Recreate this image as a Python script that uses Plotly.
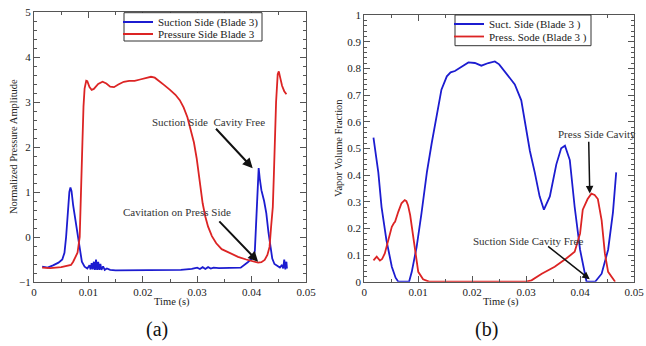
import plotly.graph_objects as go

# ---------------- data: (a) normalized pressure amplitude ----------------
a_suction_t = [0.0015, 0.0025, 0.0035, 0.0045, 0.0052, 0.0056, 0.0059, 0.0062, 0.0065, 0.0067,
               0.0069, 0.0072, 0.0075, 0.0078, 0.0081, 0.0084, 0.0088, 0.0093, 0.0098,
               0.0102, 0.0104, 0.0106, 0.0108, 0.0110, 0.0112, 0.0114, 0.0116, 0.0118, 0.0120,
               0.0122, 0.0124, 0.0127, 0.0130, 0.0134, 0.0140, 0.0150, 0.0200, 0.0250, 0.0270,
               0.0290, 0.0300, 0.0305, 0.0310, 0.0315, 0.0320, 0.0325, 0.0330, 0.0340, 0.0360,
               0.0380, 0.0393, 0.0403, 0.0406, 0.0408, 0.0410, 0.0412, 0.0413, 0.0415, 0.0418,
               0.0423, 0.0427, 0.0431, 0.0434, 0.0438, 0.0442, 0.0448, 0.0452, 0.0456, 0.0458,
               0.0460, 0.0462, 0.0464, 0.0465]
a_suction_v = [-0.66, -0.68, -0.63, -0.57, -0.50, -0.35, 0.00, 0.60, 1.00, 1.10,
               1.02, 0.70, 0.45, 0.23, 0.00, -0.30, -0.55, -0.66, -0.70,
               -0.63, -0.72, -0.58, -0.72, -0.55, -0.73, -0.50, -0.73, -0.55, -0.73,
               -0.60, -0.73, -0.65, -0.73, -0.70, -0.73, -0.74, -0.74, -0.74, -0.73,
               -0.71, -0.68, -0.71, -0.67, -0.71, -0.67, -0.70, -0.68, -0.69, -0.69,
               -0.68, -0.56, -0.45, -0.30, 0.20, 0.90, 1.45, 1.53, 1.30, 1.04,
               0.80, 0.53, 0.10, -0.20, -0.48, -0.60, -0.64, -0.68, -0.62, -0.70,
               -0.50, -0.72, -0.55, -0.70]

a_pressure_t = [0.0015, 0.0030, 0.0050, 0.0060, 0.0068, 0.0072, 0.0076, 0.0080, 0.0084, 0.0087,
                0.0089, 0.0091, 0.0093, 0.0096, 0.0098, 0.0102, 0.0106, 0.0110, 0.0118, 0.0126,
                0.0133, 0.0140, 0.0147, 0.0155, 0.0165, 0.0175, 0.0185, 0.0195, 0.0205, 0.0215,
                0.0222, 0.0230, 0.0240, 0.0250, 0.0260, 0.0268, 0.0275, 0.0282, 0.0288, 0.0294,
                0.0299, 0.0304, 0.0310, 0.0315, 0.0320, 0.0327, 0.0335, 0.0345, 0.0360, 0.0375,
                0.0390, 0.0402, 0.0412, 0.0418, 0.0424, 0.0429, 0.0433, 0.0436, 0.0439, 0.0441,
                0.0443, 0.0445, 0.0448, 0.0450, 0.0453, 0.0456, 0.0460, 0.0464]
a_pressure_v = [-0.68, -0.69, -0.67, -0.65, -0.62, -0.55, -0.45, -0.35, 0.00, 1.00,
                2.10, 2.90, 3.30, 3.47, 3.46, 3.33, 3.27, 3.29, 3.40, 3.45,
                3.41, 3.34, 3.33, 3.39, 3.45, 3.47, 3.47, 3.50, 3.53, 3.56,
                3.54, 3.47, 3.37, 3.27, 3.16, 3.04, 2.88, 2.66, 2.40, 2.10,
                1.75, 1.30, 0.75, 0.45, 0.23, 0.02, -0.14, -0.27, -0.36, -0.44,
                -0.50, -0.54, -0.57, -0.56, -0.51, -0.40, -0.22, 0.25, 0.67, 1.40,
                2.20, 3.00, 3.62, 3.68, 3.52, 3.36, 3.24, 3.17]

# ---------------- data: (b) vapor volume fraction ----------------
b_suction_t = [0.0017, 0.0020, 0.0026, 0.0032, 0.0041, 0.0051, 0.0058, 0.0063, 0.0083, 0.0088,
               0.0097, 0.0106, 0.0116, 0.0125, 0.0134, 0.0143, 0.0153, 0.0160, 0.0168, 0.0180,
               0.0193, 0.0205, 0.0217, 0.0230, 0.0242, 0.0250, 0.0260, 0.0279, 0.0291, 0.0300,
               0.0307, 0.0316, 0.0325, 0.0333, 0.0344, 0.0356, 0.0365, 0.0372, 0.0381, 0.0390,
               0.0400, 0.0409, 0.0412, 0.0428, 0.0440, 0.0452, 0.0461, 0.0467]
b_suction_v = [0.54, 0.49, 0.41, 0.28, 0.156, 0.056, 0.015, 0.0, 0.0, 0.037,
               0.13, 0.256, 0.41, 0.52, 0.62, 0.72, 0.77, 0.785, 0.79, 0.805,
               0.822, 0.82, 0.81, 0.82, 0.826, 0.815, 0.79, 0.74, 0.68, 0.58,
               0.49, 0.41, 0.32, 0.27, 0.32, 0.44, 0.50, 0.51, 0.456, 0.28,
               0.12, 0.03, 0.0, 0.0, 0.03, 0.12, 0.26, 0.41]

b_pressure_t = [0.0017, 0.0023, 0.0029, 0.0033, 0.0038, 0.0044, 0.0051, 0.0055, 0.0057, 0.0063,
                0.0069, 0.0072, 0.0075, 0.0078, 0.0081, 0.0085, 0.0088, 0.0094, 0.0100, 0.0109,
                0.0120, 0.0300, 0.0310, 0.0329, 0.0353, 0.0375, 0.0390, 0.0400, 0.0405, 0.0414,
                0.0421, 0.0427, 0.0433, 0.0440, 0.0446, 0.0452, 0.0461, 0.0465]
b_pressure_v = [0.08, 0.094, 0.079, 0.085, 0.106, 0.156, 0.206, 0.22, 0.225, 0.262,
                0.294, 0.30, 0.306, 0.302, 0.287, 0.25, 0.206, 0.106, 0.037, 0.009,
                0.0, 0.0, 0.005, 0.03, 0.056, 0.088, 0.112, 0.18, 0.27, 0.31,
                0.33, 0.325, 0.31, 0.23, 0.106, 0.037, 0.013, 0.0]

# legend names / labels
names_a = ["Suction Side (Blade 3)", "Pressure Side Blade 3"]
names_b = ["Suct. Side (Blade 3 )", "Press. Sode (Blade 3 )"]
x_title = "Time (s)"
y_title_a = "Normalized Pressure Amplitude"
y_title_b = "Vapor Volume Fraction"

BLUE = "#1c1cd0"
RED = "#dc2424"
FONT = "'Liberation Serif', 'Times New Roman', Times, serif"
FRAME = "#555555"

W, H = 646, 346


def px_x(p):
    return p / W


def px_y(p):
    return (H - p) / H


fig = go.Figure()
fig.add_trace(go.Scatter(x=a_suction_t, y=a_suction_v, mode="lines", name=names_a[0],
                         line=dict(color=BLUE, width=1.8), xaxis="x", yaxis="y", legend="legend"))
fig.add_trace(go.Scatter(x=a_pressure_t, y=a_pressure_v, mode="lines", name=names_a[1],
                         line=dict(color=RED, width=1.8), xaxis="x", yaxis="y", legend="legend2"))
fig.add_trace(go.Scatter(x=b_suction_t, y=b_suction_v, mode="lines", name=names_b[0],
                         line=dict(color=BLUE, width=1.8), xaxis="x2", yaxis="y2", legend="legend3"))
fig.add_trace(go.Scatter(x=b_pressure_t, y=b_pressure_v, mode="lines", name=names_b[1],
                         line=dict(color=RED, width=1.8), xaxis="x2", yaxis="y2", legend="legend4"))

tickfont = dict(family=FONT, size=11, color="#222")
titlefont = dict(family=FONT, size=10.5, color="#222")


def axis(domain, rng, dtick, minor_dtick, anchor):
    return dict(domain=domain, range=rng, dtick=dtick, tick0=0, anchor=anchor,
                automargin=False,
                showline=True, linecolor=FRAME, linewidth=1, mirror="allticks",
                ticks="inside", ticklen=6, tickcolor=FRAME, tickwidth=1,
                minor=dict(ticks="inside", dtick=minor_dtick, ticklen=3, tickcolor=FRAME),
                showgrid=False, zeroline=False, tickfont=tickfont)


def leg(xpx, ypx):
    return dict(x=px_x(xpx), y=px_y(ypx), xanchor="left", yanchor="middle",
                xref="container", yref="container",
                bgcolor="rgba(0,0,0,0)", borderwidth=0,
                font=dict(family=FONT, size=11, color="#222"), itemwidth=30,
                tracegroupgap=0)


fig.update_layout(
    width=W, height=H, margin=dict(l=0, r=0, t=0, b=0, autoexpand=False),
    paper_bgcolor="white", plot_bgcolor="white",
    xaxis=axis([px_x(34), px_x(306)], [0, 0.05], 0.01, 0.005, "y"),
    yaxis=axis([px_y(282), px_y(12)], [-1, 5], 1, 0.2, "x"),
    xaxis2=axis([px_x(364.3), px_x(634)], [0, 0.05], 0.01, 0.005, "y2"),
    yaxis2=axis([px_y(281.7), px_y(15)], [0, 1], 0.1, 0.02, "x2"),
    legend=leg(118, 22),
    legend2=leg(118, 34),
    legend3=leg(449, 24),
    legend4=leg(449, 36.5),
    showlegend=True,
)

# legend frames
for x0, x1, y0, y1 in [(124, 262, 12.7, 41), (455, 591, 15, 45.7)]:
    fig.add_shape(type="rect", xref="paper", yref="paper",
                  x0=px_x(x0), x1=px_x(x1), y0=px_y(y1), y1=px_y(y0),
                  line=dict(color="#333", width=1), fillcolor="white", layer="above")

# axis titles
for txt, xp, yp, ang in [(x_title, 171.5, 302, 0), (x_title, 501, 302, 0),
                         (y_title_a, 13, 147, -90), (y_title_b, 338, 148, -90)]:
    fig.add_annotation(text=txt, x=px_x(xp), y=px_y(yp), xref="paper", yref="paper",
                       xanchor="center", yanchor="middle", textangle=ang,
                       showarrow=False, font=titlefont)

ann_font = dict(family=FONT, size=11, color="#333")
# text labels
fig.add_annotation(text="Suction Side  Cavity Free", x=0.0320, y=2.55, xref="x", yref="y",
                   showarrow=False, font=ann_font)
fig.add_annotation(text="Cavitation on Press Side", x=0.0262, y=0.56, xref="x", yref="y",
                   showarrow=False, font=ann_font)
fig.add_annotation(text="Press Side Cavity", x=0.0431, y=0.553, xref="x2", yref="y2",
                   showarrow=False, font=ann_font)
fig.add_annotation(text="Suction Side Cavity Free", x=0.0304, y=0.152, xref="x2", yref="y2",
                   showarrow=False, font=ann_font)
# arrows
arrow = dict(showarrow=True, arrowhead=2, arrowsize=1, arrowwidth=2, arrowcolor="#111", text="")
fig.add_annotation(x=0.0402, y=1.53, ax=0.0332, ay=2.44, xref="x", yref="y",
                   axref="x", ayref="y", **arrow)
fig.add_annotation(x=0.0412, y=-0.55, ax=0.0338, ay=0.38, xref="x", yref="y",
                   axref="x", ayref="y", **arrow)
fig.add_annotation(x=0.0418, y=0.331, ax=0.0416, ay=0.53, xref="x2", yref="y2",
                   axref="x2", ayref="y2", **dict(arrow, arrowwidth=1.5))
fig.add_annotation(x=0.0418, y=0.009, ax=0.0338, ay=0.137, xref="x2", yref="y2",
                   axref="x2", ayref="y2", **dict(arrow, arrowwidth=1.5))

# panel labels
fig.add_annotation(text="(a)", x=px_x(157), y=px_y(329), xref="paper", yref="paper",
                   xanchor="center", yanchor="middle",
                   showarrow=False, font=dict(family=FONT, size=20, color="#111"))
fig.add_annotation(text="(b)", x=px_x(486), y=px_y(329), xref="paper", yref="paper",
                   xanchor="center", yanchor="middle",
                   showarrow=False, font=dict(family=FONT, size=20, color="#111"))

fig.write_html("out.html")
